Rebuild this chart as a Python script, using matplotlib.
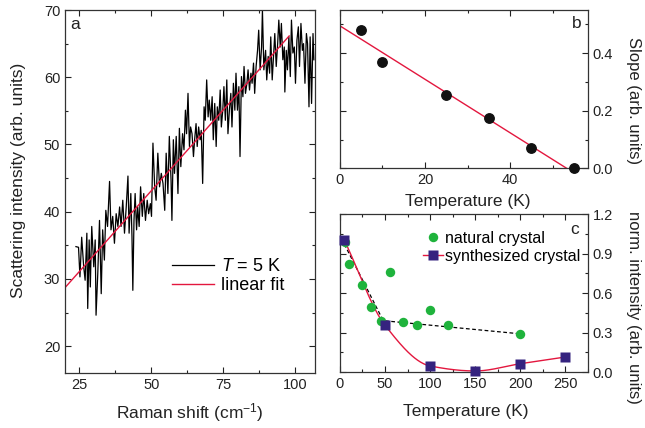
import numpy as np
import matplotlib
matplotlib.use("Agg")
import matplotlib.pyplot as plt
from matplotlib.ticker import MultipleLocator, FormatStrFormatter
from matplotlib.lines import Line2D

plt.rcParams["font.family"] = ["Liberation Sans", "DejaVu Sans"]
plt.rcParams["mathtext.fontset"] = "custom"
plt.rcParams["mathtext.rm"] = "Liberation Sans"
plt.rcParams["mathtext.it"] = "Liberation Sans:italic"

# ---- panel a: Raman spectrum at 5 K ----
raman_shift = [
    23.8, 24.7, 25.2, 25.8, 26.5, 27.0, 27.6, 27.9, 28.4, 28.8, 29.3, 30.0, 30.5, 30.8,
    31.4, 32.0, 32.6, 33.1, 33.7, 34.2, 34.8, 35.5, 36.0, 36.6, 37.2, 37.8, 38.4, 39.0,
    39.5, 40.1, 40.7, 41.3, 41.9, 42.3, 42.9, 43.3, 43.6, 44.0, 44.4, 44.9, 45.3, 45.8,
    46.3, 46.9, 47.4, 48.0, 48.6, 49.1, 49.7, 50.1, 50.6, 51.2, 51.7, 52.3, 52.9, 53.5,
    54.1, 54.7, 55.2, 55.8, 56.3, 56.9, 57.2, 57.7, 58.1, 58.7, 59.3, 59.8, 60.3, 60.9,
    61.4, 61.9, 62.3, 62.8, 63.3, 63.7, 64.2, 64.7, 65.1, 65.6, 66.0, 66.5, 67.0, 67.4,
    67.9, 68.4, 68.8, 69.3, 69.8, 70.2, 70.7, 71.2, 71.6, 72.1, 72.6, 73.0, 73.5, 74.0,
    74.4, 74.9, 75.3, 75.8, 76.3, 76.7, 77.2, 77.7, 78.1, 78.6, 79.1, 79.5, 80.0, 80.5,
    80.9, 81.4, 81.9, 82.3, 82.8, 83.3, 83.7, 84.2, 84.7, 85.1, 85.6, 86.0, 86.5, 87.0,
    87.4, 87.9, 88.4, 88.7, 89.2, 89.8, 90.2, 90.7, 91.2, 91.6, 92.1, 92.6, 93.0, 93.5,
    94.0, 94.4, 94.9, 95.3, 95.8, 96.3, 96.5, 97.0, 97.4, 97.9, 98.4, 98.8, 99.3, 99.8,
    100.2, 100.7, 101.2, 101.6, 102.1, 102.6, 103.0, 103.5, 104.0, 104.4, 104.9, 105.3,
    105.8, 106.3, 106.6,
]
intensity = [
    34.8, 34.7, 30.3, 36.2, 31.8, 29.8, 36.8, 25.6, 35.8, 28.8, 37.8, 31.8, 35.8, 24.6,
    30.8, 38.7, 27.8, 37.3, 32.8, 40.2, 37.8, 44.5, 37.3, 39.3, 35.3, 39.7, 37.8, 40.7,
    37.8, 41.7, 36.8, 40.7, 45.3, 36.8, 42.7, 36.3, 28.3, 38.7, 42.7, 37.3, 40.7, 37.8,
    43.7, 39.3, 42.7, 38.7, 41.7, 39.7, 41.2, 39.3, 50.2, 43.7, 41.7, 48.7, 43.7, 45.7,
    44.2, 40.2, 48.7, 42.7, 51.2, 44.7, 38.7, 50.7, 45.7, 51.2, 42.7, 52.4, 46.7, 51.6,
    49.2, 55.1, 51.6, 57.6, 49.7, 52.6, 51.6, 48.2, 50.7, 53.1, 49.7, 52.6, 50.7, 52.1,
    44.2, 55.6, 53.6, 59.6, 54.1, 56.6, 53.6, 57.1, 50.7, 56.1, 49.7, 55.6, 53.6, 58.1,
    52.6, 55.1, 58.6, 53.6, 59.6, 51.6, 55.1, 57.6, 52.6, 59.1, 55.1, 60.6, 55.1, 58.6,
    48.2, 60.1, 57.1, 61.6, 57.6, 59.1, 61.1, 58.1, 60.6, 59.1, 62.1, 57.6, 61.6, 64.0,
    67.0, 61.1, 64.5, 70.0, 61.1, 64.0, 59.6, 63.1, 60.6, 66.0, 59.6, 63.6, 66.5, 61.6,
    65.0, 68.5, 64.5, 68.0, 62.6, 64.5, 57.8, 64.0, 61.1, 66.0, 60.1, 68.5, 63.6, 64.5,
    59.1, 65.5, 67.5, 61.6, 68.0, 64.0, 65.0, 59.1, 66.5, 65.0, 55.6, 66.0, 56.1, 66.5,
    62.6,
]
fit_slope = 0.48
fit_intercept = 19.1
fit_range = [20.0, 98.0]

# ---- panel b: slope vs temperature ----
slope_T = [5, 10, 25, 35, 45, 55]
slope_val = [0.48, 0.37, 0.255, 0.176, 0.069, 0.0]
slope_fit_a = 0.495
slope_fit_b = -0.00929
slope_fit_range = [0.0, 53.3]

# ---- panel c: normalised intensity ----
nat_T = [6, 10, 25, 35, 46, 55, 70, 85, 100, 120, 200]
nat_I = [0.99, 0.82, 0.66, 0.49, 0.39, 0.76, 0.38, 0.36, 0.47, 0.36, 0.29]
syn_T = [5, 50, 100, 150, 200, 250]
syn_I = [1.0, 0.355, 0.046, 0.008, 0.063, 0.114]
guide_T = [5, 48, 200]
guide_I = [0.97, 0.39, 0.29]

RED = "#e3173e"
GREEN = "#1fb33c"
NAVY = "#35237f"
INK = "#222222"
LABEL_FS = 12.5
TICK_FS = 10.5


def pchip(x, y, xn):
    """Shape-preserving piecewise cubic Hermite interpolation."""
    x = np.asarray(x, float)
    y = np.asarray(y, float)
    h = np.diff(x)
    d = np.diff(y) / h
    m = np.zeros_like(y)
    m[0], m[-1] = d[0], d[-1]
    for k in range(1, len(x) - 1):
        if d[k - 1] * d[k] > 0:
            w1 = 2 * h[k] + h[k - 1]
            w2 = h[k] + 2 * h[k - 1]
            m[k] = (w1 + w2) / (w1 / d[k - 1] + w2 / d[k])
    idx = np.clip(np.searchsorted(x, xn) - 1, 0, len(x) - 2)
    t = (xn - x[idx]) / h[idx]
    h00 = 2 * t**3 - 3 * t**2 + 1
    h10 = t**3 - 2 * t**2 + t
    h01 = -2 * t**3 + 3 * t**2
    h11 = t**3 - t**2
    return (h00 * y[idx] + h10 * h[idx] * m[idx]
            + h01 * y[idx + 1] + h11 * h[idx] * m[idx + 1])


def style_axes(ax):
    ax.tick_params(which="both", direction="in", top=True, right=True,
                   labelsize=TICK_FS, colors=INK, width=0.8)
    ax.tick_params(which="major", length=4)
    ax.tick_params(which="minor", length=2.5)
    for s in ax.spines.values():
        s.set_linewidth(0.9)
        s.set_color("#333333")


def place_xlabel(ax, text, x, y):
    ax.set_xlabel(text, fontsize=LABEL_FS, color=INK)
    ax.xaxis.set_label_coords(x, y)
    ax.xaxis.label.set_va("center")


def place_ylabel(ax, text, x, y, rotation=90, size=LABEL_FS):
    ax.set_ylabel(text, fontsize=size, color=INK, rotation=rotation)
    ax.yaxis.set_label_coords(x, y)
    ax.yaxis.label.set_va("center")
    ax.yaxis.label.set_ha("center")


fig = plt.figure(figsize=(6.45, 4.28), dpi=100)
ax_a = fig.add_axes([0.1008, 0.1285, 0.3876, 0.8481])
ax_b = fig.add_axes([0.527, 0.6068, 0.3846, 0.3698])
ax_c = fig.add_axes([0.527, 0.1308, 0.3846, 0.3692])

# ---- a ----
ax_a.plot(raman_shift, intensity, color="black", lw=0.9)
xf = np.array(fit_range)
ax_a.plot(xf, fit_intercept + fit_slope * xf, color=RED, lw=1.0)
ax_a.set_xlim(20, 107)
ax_a.set_ylim(16, 70)
ax_a.xaxis.set_major_locator(MultipleLocator(25))
ax_a.xaxis.set_minor_locator(MultipleLocator(12.5))
ax_a.yaxis.set_major_locator(MultipleLocator(10))
ax_a.yaxis.set_minor_locator(MultipleLocator(5))
style_axes(ax_a)
place_xlabel(ax_a, "Raman shift (cm$^{-1}$)", 0.5, -0.108)
place_ylabel(ax_a, "Scattering intensity (arb. units)", -0.188, 0.53)
ax_a.text(0.04, 0.959, "a", transform=ax_a.transAxes, fontsize=LABEL_FS,
          ha="center", va="center", color=INK)
handles_a = [Line2D([], [], color="black", lw=0.9), Line2D([], [], color=RED, lw=1.0)]
ax_a.legend(handles_a, ["$T$ = 5 K", "linear fit"], loc="center left",
            bbox_to_anchor=(0.428, 0.267), frameon=False, fontsize=13,
            handlelength=2.33, handletextpad=0.39, labelspacing=0.12,
            borderpad=0, borderaxespad=0)

# ---- b ----
xb = np.array(slope_fit_range)
ax_b.plot(xb, slope_fit_a + slope_fit_b * xb, color=RED, lw=1.0)
ax_b.plot(slope_T, slope_val, "o", color="#111111", ms=6.8, clip_on=False, zorder=3)
ax_b.set_xlim(0, 58.3)
ax_b.set_ylim(0, 0.55)
ax_b.xaxis.set_major_locator(MultipleLocator(20))
ax_b.xaxis.set_minor_locator(MultipleLocator(10))
ax_b.yaxis.set_major_locator(MultipleLocator(0.2))
ax_b.yaxis.set_minor_locator(MultipleLocator(0.1))
ax_b.yaxis.set_major_formatter(FormatStrFormatter("%.1f"))
style_axes(ax_b)
ax_b.tick_params(axis="y", labelleft=False, labelright=True)
ax_b.yaxis.set_label_position("right")
place_ylabel(ax_b, "Slope (arb. units)", 1.183, 0.425, rotation=270, size=12)
place_xlabel(ax_b, "Temperature (K)", 0.516, -0.207)
ax_b.text(0.956, 0.912, "b", transform=ax_b.transAxes, fontsize=LABEL_FS,
          ha="center", va="center", color=INK)

# ---- c ----
ax_c.plot(guide_T, guide_I, color="black", lw=0.9, ls=(0, (3, 2)))
tt = np.linspace(syn_T[0], syn_T[-1], 300)
ax_c.plot(tt, pchip(syn_T, syn_I, tt), color=RED, lw=1.0)
ax_c.plot(nat_T, nat_I, "o", color=GREEN, ms=6.8, mec="none", clip_on=False, zorder=3)
ax_c.plot(syn_T, syn_I, "s", color=NAVY, ms=7.2, mec="none", clip_on=False, zorder=4)
ax_c.set_xlim(0, 275)
ax_c.set_ylim(0, 1.2)
ax_c.xaxis.set_major_locator(MultipleLocator(50))
ax_c.xaxis.set_minor_locator(MultipleLocator(25))
ax_c.yaxis.set_major_locator(MultipleLocator(0.3))
ax_c.yaxis.set_minor_locator(MultipleLocator(0.15))
ax_c.yaxis.set_major_formatter(FormatStrFormatter("%.1f"))
style_axes(ax_c)
ax_c.tick_params(axis="y", labelleft=False, labelright=True)
ax_c.yaxis.set_label_position("right")
place_ylabel(ax_c, "norm. intensity (arb. units)", 1.185, 0.41, rotation=270, size=12)
place_xlabel(ax_c, "Temperature (K)", 0.506, -0.247)
ax_c.text(0.948, 0.905, "c", transform=ax_c.transAxes, fontsize=LABEL_FS,
          ha="center", va="center", color=INK)
handles_c = [Line2D([], [], ls="none", marker="o", color=GREEN, ms=6.8, mec="none"),
             Line2D([], [], color=RED, lw=1.0, marker="s", mfc=NAVY, mec="none", ms=7.2)]
ax_c.legend(handles_c, ["natural crystal", "synthesized crystal"], loc="center left",
            bbox_to_anchor=(0.335, 0.79), frameon=False, fontsize=11.5,
            handlelength=1.25, handletextpad=0.15, labelspacing=0.2,
            borderpad=0, borderaxespad=0)

fig.savefig("out.png", dpi=100)
